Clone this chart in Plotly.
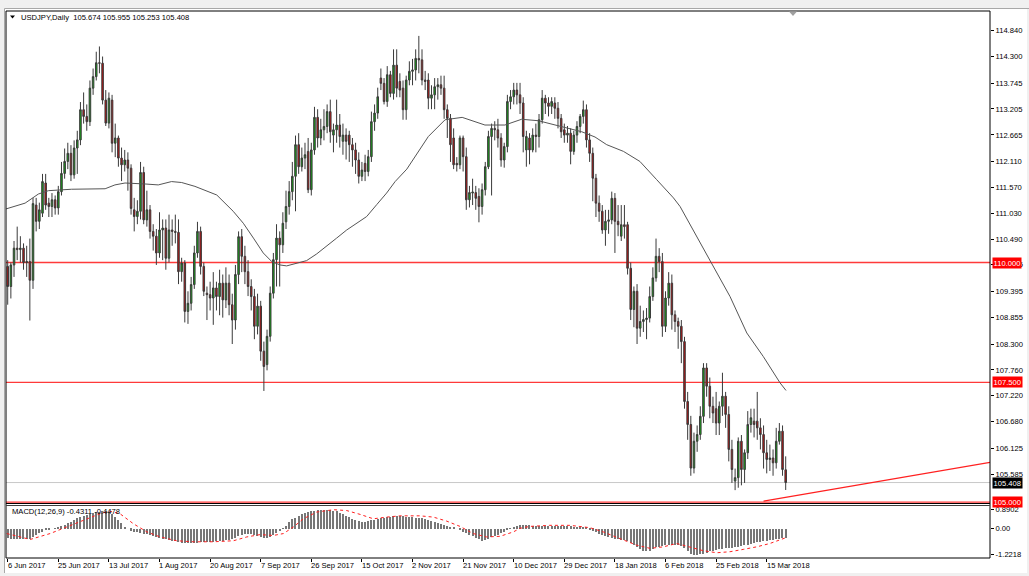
import plotly.graph_objects as go

W, H = 1029, 576

# ---------------- data ----------------
date_labels = ["6 Jun 2017", "25 Jun 2017", "13 Jul 2017", "1 Aug 2017", "20 Aug 2017",
               "7 Sep 2017", "26 Sep 2017", "15 Oct 2017", "2 Nov 2017", "21 Nov 2017",
               "10 Dec 2017", "29 Dec 2017", "18 Jan 2018", "6 Feb 2018", "25 Feb 2018",
               "15 Mar 2018"]
label_bar_step = 16

ohlc_rows = [
    (109.92, 110.05, 109.12, 109.50), (109.50, 110.00, 109.25, 109.95), (109.95, 110.45, 109.70, 110.30),
    (110.30, 110.75, 110.05, 110.27), (110.27, 110.55, 110.00, 110.30), (110.30, 110.40, 109.85, 110.00),
    (110.00, 110.35, 109.70, 110.02), (110.02, 110.50, 108.79, 109.63), (109.63, 111.35, 109.45, 111.23),
    (111.20, 111.35, 110.65, 110.86), (110.86, 111.25, 110.70, 111.10), (111.03, 111.85, 110.95, 111.69),
    (111.66, 111.85, 111.10, 111.20), (111.24, 111.35, 110.95, 111.17), (111.17, 111.45, 110.95, 111.31),
    (111.31, 111.40, 111.00, 111.14), (111.14, 111.60, 111.00, 111.48), (111.48, 112.10, 111.40, 111.86),
    (111.86, 112.38, 111.75, 112.11), (112.11, 112.50, 111.95, 112.28), (112.28, 112.45, 111.70, 111.83),
    (111.83, 112.55, 111.75, 112.39), (112.39, 112.75, 111.85, 112.56), (112.56, 113.35, 112.45, 113.19),
    (113.19, 113.55, 112.90, 113.05), (113.05, 113.30, 112.75, 112.94), (112.94, 113.80, 112.85, 113.64),
    (113.64, 114.05, 113.50, 113.88), (113.88, 114.40, 113.80, 114.17), (114.17, 114.51, 113.95, 114.16),
    (114.16, 114.30, 113.30, 113.39), (113.39, 113.60, 112.85, 112.91), (112.91, 113.55, 112.80, 113.43),
    (113.39, 113.50, 112.30, 112.49), (112.49, 112.90, 112.20, 112.60), (112.60, 112.65, 112.00, 112.18),
    (112.18, 112.40, 111.70, 112.04), (112.04, 112.35, 111.90, 112.14), (112.14, 112.30, 111.50, 111.97),
    (111.97, 112.05, 111.00, 111.13), (111.10, 111.35, 110.65, 110.96), (110.96, 111.30, 110.80, 111.07),
    (111.07, 112.10, 110.90, 111.88), (111.88, 112.00, 110.80, 110.89), (110.89, 111.50, 110.75, 111.10),
    (111.10, 111.20, 110.50, 110.65), (110.65, 110.80, 110.25, 110.55), (110.55, 110.70, 109.95, 110.20),
    (110.20, 111.05, 110.10, 110.68), (110.68, 110.90, 110.05, 110.72), (110.72, 110.90, 109.85, 110.09),
    (110.09, 111.00, 110.00, 110.68), (110.68, 110.90, 110.35, 110.65), (110.65, 111.00, 110.40, 110.63),
    (110.63, 110.90, 109.55, 109.81), (109.81, 110.10, 109.60, 109.99), (109.99, 110.05, 108.75, 108.98),
    (108.98, 109.40, 108.72, 109.15), (109.15, 109.70, 109.00, 109.54), (109.54, 110.35, 109.45, 110.20),
    (110.20, 110.85, 110.10, 110.65), (110.65, 110.75, 109.75, 109.92), (109.92, 110.00, 109.30, 109.40),
    (109.36, 109.50, 108.80, 109.33), (109.33, 109.60, 109.00, 109.26), (109.26, 109.80, 108.70, 109.47),
    (109.47, 109.60, 109.00, 109.29), (109.29, 109.85, 108.90, 109.57), (109.57, 109.75, 108.85, 109.22),
    (109.22, 109.90, 109.05, 109.57), (109.57, 109.75, 108.90, 109.12), (109.12, 109.35, 108.30, 108.80),
    (108.80, 109.95, 108.60, 109.75), (109.75, 110.65, 109.55, 110.54), (110.54, 110.70, 109.80, 110.13),
    (110.13, 110.35, 109.55, 109.81), (109.81, 110.05, 109.30, 109.50), (109.50, 109.65, 109.00, 109.29),
    (109.29, 109.45, 108.40, 108.67), (108.67, 109.35, 108.50, 109.09), (109.09, 109.20, 107.95, 108.15),
    (108.15, 108.35, 107.32, 107.83), (107.87, 108.60, 107.75, 108.46), (108.46, 109.50, 108.35, 109.36),
    (109.36, 110.20, 109.25, 110.06), (110.06, 110.80, 109.50, 110.51), (110.51, 110.65, 109.50, 110.37),
    (110.37, 111.05, 110.20, 110.82), (110.85, 111.50, 110.70, 111.17), (111.17, 111.70, 111.00, 111.48),
    (111.48, 112.10, 111.30, 111.80), (111.80, 112.65, 111.07, 112.46), (112.46, 112.70, 111.85, 112.00),
    (112.00, 112.40, 111.90, 112.18), (112.18, 112.50, 111.95, 112.25), (112.32, 112.60, 111.45, 111.52),
    (111.52, 112.50, 111.40, 112.35), (112.35, 113.25, 112.25, 113.03), (113.03, 113.20, 112.40, 112.60),
    (112.60, 113.00, 112.45, 112.77), (112.77, 113.20, 112.55, 112.84), (112.84, 113.30, 112.70, 113.15),
    (113.15, 113.40, 112.50, 112.73), (112.66, 112.90, 112.30, 112.77), (112.77, 113.40, 112.50, 112.87),
    (112.87, 113.10, 112.40, 112.63), (112.53, 112.90, 112.25, 112.66), (112.66, 112.80, 112.15, 112.53),
    (112.66, 112.75, 112.10, 112.46), (112.46, 112.60, 112.00, 112.35), (112.35, 112.50, 111.85, 112.14),
    (112.14, 112.30, 111.65, 111.80), (111.80, 112.10, 111.70, 111.93), (112.07, 112.25, 111.70, 111.90),
    (111.90, 112.35, 111.80, 112.21), (112.21, 113.15, 112.10, 112.94), (112.94, 113.30, 112.75, 113.12),
    (113.12, 113.65, 113.00, 113.46), (113.85, 114.05, 113.60, 113.74), (113.74, 113.85, 113.30, 113.36),
    (113.36, 114.10, 113.25, 113.92), (113.92, 114.00, 113.45, 113.53), (113.53, 114.45, 113.40, 114.12),
    (114.12, 114.45, 113.45, 113.64), (113.78, 113.95, 113.45, 113.60), (113.64, 113.80, 112.98, 113.19),
    (113.19, 113.90, 112.98, 113.81), (113.81, 114.20, 113.70, 113.99), (113.99, 114.25, 113.70, 114.02),
    (114.02, 114.45, 113.80, 114.26), (114.26, 114.73, 113.95, 114.23), (114.23, 114.45, 113.70, 113.81),
    (113.81, 114.00, 113.60, 113.78), (113.81, 113.95, 113.20, 113.43), (113.43, 113.70, 113.20, 113.50),
    (113.50, 113.85, 113.20, 113.67), (113.67, 113.85, 113.40, 113.71), (113.71, 113.90, 113.50, 113.64),
    (113.64, 113.90, 113.00, 113.19), (113.19, 113.30, 112.60, 113.01), (113.01, 113.10, 112.10, 112.46),
    (112.60, 112.80, 111.95, 112.04), (112.07, 112.20, 111.90, 112.04), (112.04, 112.65, 111.95, 112.60),
    (112.60, 112.65, 111.90, 112.21), (112.21, 112.40, 111.10, 111.31), (111.31, 111.60, 111.15, 111.46),
    (111.45, 111.75, 111.20, 111.47), (111.46, 111.60, 111.10, 111.34), (111.38, 111.55, 110.84, 111.17),
    (111.17, 111.65, 111.00, 111.52), (111.52, 112.10, 111.40, 112.00), (112.00, 112.75, 111.95, 112.63),
    (112.63, 112.90, 111.40, 112.80), (112.80, 112.95, 112.55, 112.77), (112.77, 113.00, 112.40, 112.60),
    (112.60, 112.70, 112.00, 112.14), (112.14, 112.50, 111.98, 112.42), (112.42, 113.50, 112.30, 113.36),
    (113.36, 113.60, 113.20, 113.46), (113.46, 113.75, 113.30, 113.60), (113.60, 113.75, 113.30, 113.50),
    (113.50, 113.75, 113.10, 113.33), (113.33, 113.45, 112.30, 112.63), (112.35, 112.75, 112.00, 112.63),
    (112.60, 112.70, 112.05, 112.35), (112.35, 112.80, 112.30, 112.66), (112.66, 112.90, 112.30, 112.63),
    (112.63, 113.10, 112.40, 112.98), (112.98, 113.60, 112.90, 113.43), (113.43, 113.50, 113.10, 113.33),
    (113.33, 113.45, 113.05, 113.26), (113.26, 113.45, 113.10, 113.36), (113.33, 113.45, 113.00, 113.22),
    (113.22, 113.35, 112.80, 113.01), (113.01, 113.10, 112.60, 112.73), (112.77, 112.90, 112.50, 112.66),
    (112.66, 112.85, 112.50, 112.70), (112.70, 112.80, 112.05, 112.32), (112.32, 112.75, 112.25, 112.66),
    (112.66, 112.95, 112.50, 112.84), (112.84, 113.10, 112.70, 113.05), (113.05, 113.38, 112.90, 113.19),
    (113.19, 113.30, 112.40, 112.56), (112.56, 112.70, 112.10, 112.28), (112.28, 112.40, 111.28, 111.76),
    (111.76, 111.85, 110.95, 111.24), (111.24, 111.40, 110.85, 111.07), (111.07, 111.20, 110.60, 110.68),
    (110.68, 111.10, 110.35, 110.86), (110.86, 111.10, 110.60, 110.89), (110.89, 111.48, 110.80, 111.34),
    (111.34, 111.45, 110.20, 110.86), (110.86, 111.20, 110.55, 110.79), (110.55, 111.20, 110.45, 110.79),
    (110.79, 111.20, 110.50, 110.75), (110.79, 110.85, 109.75, 109.88), (109.88, 110.00, 108.80, 109.02),
    (109.02, 109.50, 108.65, 109.40), (109.40, 109.55, 108.30, 108.63), (108.63, 109.10, 108.45, 108.77),
    (108.77, 109.00, 108.55, 108.81), (108.81, 109.05, 108.40, 108.84), (108.84, 109.50, 108.75, 109.29),
    (109.29, 109.90, 109.20, 109.68), (109.68, 110.50, 109.60, 110.13), (110.13, 110.30, 109.80, 110.02),
    (110.02, 110.20, 108.45, 108.67), (108.67, 109.40, 108.55, 109.26), (109.26, 109.80, 109.10, 109.57),
    (109.57, 109.75, 108.60, 108.91), (108.91, 109.00, 108.55, 108.77), (108.77, 108.85, 108.20, 108.67),
    (108.67, 108.80, 107.90, 108.35), (108.35, 108.45, 106.95, 107.10), (107.10, 107.30, 106.30, 106.62),
    (106.62, 106.80, 105.55, 105.71), (105.71, 106.45, 105.60, 106.27), (106.27, 106.60, 106.05, 106.41),
    (106.41, 107.00, 106.30, 106.79), (106.79, 107.90, 106.65, 107.80), (107.80, 107.90, 107.20, 107.42),
    (107.42, 107.60, 106.75, 107.00), (107.00, 107.20, 106.65, 106.86), (106.95, 107.30, 106.40, 106.65),
    (106.65, 107.10, 106.40, 107.00), (107.00, 107.70, 106.80, 107.21), (107.21, 107.30, 106.55, 106.83),
    (106.83, 107.00, 105.85, 106.10), (106.10, 106.30, 105.40, 105.68), (105.44, 105.70, 105.25, 105.51),
    (105.51, 106.35, 105.30, 106.27), (106.27, 106.40, 105.35, 105.68), (105.68, 106.10, 105.40, 106.03),
    (106.03, 106.90, 105.90, 106.62), (106.62, 106.95, 106.45, 106.76), (106.69, 106.95, 106.35, 106.62),
    (106.69, 107.30, 106.30, 106.55), (106.55, 106.75, 106.10, 106.41), (106.41, 106.60, 105.70, 106.03),
    (106.03, 106.30, 105.60, 105.89), (105.89, 106.20, 105.65, 105.92), (105.92, 106.10, 105.55, 105.82),
    (105.82, 106.55, 105.70, 106.27), (106.27, 106.65, 106.20, 106.48), (106.48, 106.60, 105.55, 105.68),
    (105.674, 105.955, 105.253, 105.408),
]
opens = [r[0] for r in ohlc_rows]
highs = [r[1] for r in ohlc_rows]
lows = [r[2] for r in ohlc_rows]
closes = [r[3] for r in ohlc_rows]
bars = list(range(len(ohlc_rows)))

ma_bars = [-0.5, 5.5, 9.7, 12.9, 20.2, 30.8, 33.9, 37.1, 43.4, 47.6, 51.8, 55.0, 59.2, 62.4, 66.1,
           71.3, 74.5, 77.7, 80.8, 83.5, 86.1, 88.2, 91.4, 94.5, 97.7, 100.9, 104.0, 107.2, 110.3,
           113.5, 116.7, 119.8, 122.5, 126.2, 133.0, 138.3, 143.7, 150.9, 157.2, 162.5, 167.8,
           175.2, 181.5, 185.7, 189.4, 194.7, 199.9, 205.2, 210.5, 212.6, 217.9, 223.1, 228.4,
           233.7, 238.9, 244.2, 246.1]
ma_vals = [111.12, 111.24, 111.43, 111.50, 111.53, 111.54, 111.62, 111.66, 111.64, 111.62, 111.69,
           111.67, 111.59, 111.50, 111.41, 111.07, 110.82, 110.51, 110.20, 110.02, 109.95, 109.93,
           109.99, 110.04, 110.18, 110.34, 110.51, 110.68, 110.81, 110.96, 111.21, 111.45, 111.69,
           111.95, 112.63, 112.98, 113.03, 112.87, 112.87, 112.99, 112.96, 112.84, 112.73, 112.62,
           112.46, 112.32, 112.11, 111.73, 111.35, 111.17, 110.54, 109.92, 109.29, 108.53, 108.04,
           107.49, 107.33]

macd_hist = [
    -0.45, -0.46, -0.46, -0.47, -0.47, -0.47, -0.47, -0.47, -0.40, -0.31, -0.22, -0.14, -0.07, -0.03,
    0.00, 0.02, 0.06, 0.12, 0.18, 0.26, 0.34, 0.42, 0.49, 0.56, 0.62, 0.67, 0.71, 0.75, 0.78, 0.80,
    0.83, 0.84, 0.79, 0.71, 0.58, 0.42, 0.26, 0.10, 0.00, -0.09, -0.14, -0.17, -0.20, -0.23, -0.26,
    -0.30, -0.35, -0.40, -0.44, -0.47, -0.50, -0.53, -0.56, -0.60, -0.63, -0.66, -0.69, -0.69, -0.68,
    -0.66, -0.65, -0.64, -0.63, -0.63, -0.62, -0.61, -0.59, -0.58, -0.56, -0.54, -0.51, -0.48, -0.43,
    -0.36, -0.29, -0.24, -0.23, -0.26, -0.30, -0.33, -0.37, -0.42, -0.44, -0.40, -0.30, -0.22, -0.10,
    0.02, 0.14, 0.30, 0.45, 0.53, 0.61, 0.68, 0.74, 0.80, 0.83, 0.86, 0.88, 0.89, 0.89, 0.88, 0.88,
    0.86, 0.84, 0.77, 0.69, 0.61, 0.54, 0.47, 0.41, 0.35, 0.30, 0.32, 0.36, 0.41, 0.44, 0.47, 0.50,
    0.52, 0.54, 0.57, 0.59, 0.61, 0.60, 0.59, 0.57, 0.56, 0.55, 0.53, 0.52, 0.50, 0.47, 0.43, 0.39,
    0.34, 0.29, 0.24, 0.20, 0.15, 0.09, 0.04, 0.00, -0.08, -0.15, -0.22, -0.29, -0.36, -0.44, -0.50,
    -0.56, -0.52, -0.47, -0.41, -0.35, -0.29, -0.22, -0.15, -0.05, 0.02, 0.08, 0.13, 0.17, 0.17, 0.16,
    0.16, 0.15, 0.15, 0.14, 0.14, 0.14, 0.14, 0.14, 0.14, 0.14, 0.14, 0.14, 0.13, 0.11, 0.09, 0.08,
    0.06, 0.05, 0.04, -0.02, -0.09, -0.17, -0.25, -0.30, -0.36, -0.41, -0.44, -0.47, -0.49, -0.52,
    -0.55, -0.58, -0.68, -0.78, -0.88, -0.97, -1.06, -1.07, -1.06, -0.97, -0.88, -0.85, -0.82, -0.78,
    -0.75, -0.76, -0.77, -0.78, -0.80, -0.90, -1.05, -1.19, -1.22, -1.22, -1.20, -1.19, -1.13, -1.06,
    -1.03, -1.00, -0.98, -0.95, -0.93, -0.91, -0.90, -0.88, -0.85, -0.82, -0.79, -0.76, -0.72, -0.68,
    -0.64, -0.61, -0.59, -0.56, -0.54, -0.51, -0.49, -0.47, -0.45, -0.43,
]

signal_bars = [-0.3, 7.1, 13.4, 18.6, 23.9, 29.2, 32.3, 35.5, 39.7, 44.0, 48.2, 53.4, 58.7, 65.0,
               71.4, 75.6, 79.8, 84.0, 87.2, 90.3, 93.5, 97.7, 103.0, 107.2, 111.4, 115.6, 119.8,
               124.0, 130.4, 134.6, 138.8, 143.0, 147.2, 151.4, 155.7, 159.9, 162.0, 165.1, 171.4,
               177.8, 184.1, 188.3, 193.6, 198.9, 203.1, 207.3, 211.5, 215.7, 219.9, 224.2, 228.4,
               232.6, 236.8, 241.0, 246.0]
signal_vals = [-0.25, -0.53, -0.25, 0.06, 0.38, 0.69, 0.81, 0.69, 0.22, -0.17, -0.41, -0.59, -0.64,
               -0.64, -0.59, -0.41, -0.30, -0.34, -0.25, 0.06, 0.45, 0.77, 0.88, 0.84, 0.66, 0.45,
               0.53, 0.59, 0.59, 0.53, 0.34, 0.09, -0.25, -0.41, -0.38, -0.17, 0.00, 0.09, 0.14,
               0.14, 0.03, -0.17, -0.49, -0.80, -0.95, -0.88, -0.72, -0.88, -1.06, -1.16, -1.11,
               -1.00, -0.88, -0.72, -0.45]

price_ticks = [114.840, 114.300, 113.745, 113.205, 112.665, 112.110, 111.570, 111.030, 110.490,
               109.955, 109.395, 108.855, 108.300, 107.760, 107.220, 106.680, 106.125, 105.585]
macd_ticks = [0.8902, 0.0, -1.2218]
macd_tick_text = ["0.8902", "0.00", "-1.2218"]
levels = [110.0, 107.5, 105.0]
last_price = 105.408
trend_x = [239.0, 310.6]
trend_y = [105.02, 105.83]
header_text = "USDJPY,Daily  105.674 105.955 105.253 105.408"
macd_text = "MACD(12,26,9) -0.4311 -0.4478"

# ---------------- layout helpers ----------------
def fx(px):
    return px / W


def fy(px):
    return 1 - px / H


FONT = "Tahoma, 'Liberation Sans', Arial, sans-serif"
FS = 7.6
X_RANGE = [-0.54, 310.6]

fig = go.Figure()

fig.add_trace(go.Candlestick(
    x=bars, open=opens, high=highs, low=lows, close=closes,
    increasing=dict(line=dict(color="#3a3a3a", width=1), fillcolor="#12a812"),
    decreasing=dict(line=dict(color="#3a3a3a", width=1), fillcolor="#c01010"),
    whiskerwidth=0, xaxis="x", yaxis="y", showlegend=False, hoverinfo="skip",
))
fig.add_trace(go.Scatter(x=ma_bars, y=ma_vals, mode="lines", line=dict(color="#555555", width=1),
                         xaxis="x", yaxis="y", showlegend=False, hoverinfo="skip"))
fig.add_trace(go.Bar(x=bars, y=macd_hist, width=0.38, marker=dict(color="#777777", line=dict(width=0)),
                     xaxis="x2", yaxis="y2", showlegend=False, hoverinfo="skip"))
fig.add_trace(go.Scatter(x=signal_bars, y=signal_vals, mode="lines", line=dict(color="#ff2020", width=1, dash="dot"),
                         xaxis="x2", yaxis="y2", showlegend=False, hoverinfo="skip"))

shapes = []
# outer gray window chrome
gray = "#f0f0f0"
shapes += [
    dict(type="rect", xref="paper", yref="paper", x0=0, x1=1, y0=fy(8.5), y1=1, fillcolor=gray, line_width=0, layer="below"),
    dict(type="rect", xref="paper", yref="paper", x0=0, x1=fx(4.5), y0=0, y1=1, fillcolor=gray, line_width=0, layer="below"),
    dict(type="rect", xref="paper", yref="paper", x0=0, x1=1, y0=0, y1=fy(573), fillcolor=gray, line_width=0, layer="below"),
    dict(type="rect", xref="paper", yref="paper", x0=fx(1027), x1=1, y0=0, y1=1, fillcolor=gray, line_width=0, layer="below"),
    dict(type="line", xref="paper", yref="paper", x0=fx(4.5), x1=1, y0=fy(8.5), y1=fy(8.5), line=dict(color="#a8a8a8", width=1)),
    dict(type="line", xref="paper", yref="paper", x0=fx(4.5), x1=fx(4.5), y0=fy(573), y1=fy(8.5), line=dict(color="#a8a8a8", width=1)),
]
# level lines
for lv in levels:
    shapes.append(dict(type="line", xref="paper", yref="y", x0=fx(6), x1=fx(990), y0=lv, y1=lv,
                       line=dict(color="#ff3a3a", width=1.4), layer="below"))
shapes.append(dict(type="line", xref="paper", yref="y", x0=fx(6), x1=fx(990), y0=last_price, y1=last_price,
                   line=dict(color="#c8c8c8", width=1), layer="below"))
shapes.append(dict(type="line", xref="x", yref="y", x0=trend_x[0], x1=trend_x[1], y0=trend_y[0], y1=trend_y[1],
                   line=dict(color="#ff2020", width=1.1)))
# frames
black = "#000000"
shapes += [
    dict(type="line", xref="paper", yref="paper", x0=fx(6), x1=fx(990), y0=fy(11), y1=fy(11), line=dict(color=black, width=1)),
    dict(type="line", xref="paper", yref="paper", x0=fx(6), x1=fx(6), y0=fy(558), y1=fy(11), line=dict(color=black, width=1)),
    dict(type="line", xref="paper", yref="paper", x0=fx(990), x1=fx(990), y0=fy(558), y1=fy(11), line=dict(color=black, width=1)),
    dict(type="line", xref="paper", yref="paper", x0=fx(6), x1=fx(990), y0=fy(558), y1=fy(558), line=dict(color=black, width=1)),
    dict(type="line", xref="paper", yref="paper", x0=fx(6), x1=fx(990), y0=fy(503.5), y1=fy(503.5), line=dict(color=black, width=1)),
    dict(type="line", xref="paper", yref="paper", x0=fx(6), x1=fx(990), y0=fy(505.5), y1=fy(505.5), line=dict(color="#404040", width=1)),
]
# header triangle and chart-shift marker
shapes.append(dict(type="path", xref="paper", yref="paper",
                   path=f"M {fx(10)},{fy(15.5)} L {fx(15)},{fy(15.5)} L {fx(12.5)},{fy(18.5)} Z",
                   fillcolor="#000000", line_width=0))
shapes.append(dict(type="path", xref="paper", yref="paper",
                   path=f"M {fx(789)},{fy(11.5)} L {fx(797)},{fy(11.5)} L {fx(793)},{fy(16)} Z",
                   fillcolor="#a0a0a0", line_width=0))

annotations = []
annotations.append(dict(xref="paper", yref="paper", x=fx(18.5), y=fy(17.8), xanchor="left", yanchor="middle",
                        text=header_text, showarrow=False, font=dict(family=FONT, size=FS, color="#000000")))
annotations.append(dict(xref="paper", yref="paper", x=fx(9.5), y=fy(511.5), xanchor="left", yanchor="middle",
                        text=macd_text, showarrow=False, font=dict(family=FONT, size=FS, color="#000000")))
for k, lab in enumerate(date_labels):
    annotations.append(dict(xref="x2", yref="paper", x=k * label_bar_step - 0.35, y=fy(565.8), xanchor="left",
                            yanchor="middle", text=lab, showarrow=False, borderpad=0,
                            font=dict(family=FONT, size=FS, color="#000000")))
for lv in levels:
    annotations.append(dict(xref="paper", yref="y", x=fx(991.5), y=lv, xanchor="left", yanchor="middle",
                            text=f"{lv:.3f}", showarrow=False, bgcolor="#ff0000", borderpad=0.6,
                            font=dict(family=FONT, size=FS, color="#ffffff")))
annotations.append(dict(xref="paper", yref="y", x=fx(991.5), y=last_price, xanchor="left", yanchor="middle",
                        text=f"{last_price:.3f}", showarrow=False, bgcolor="#000000", borderpad=0.6,
                        font=dict(family=FONT, size=FS, color="#ffffff")))

fig.update_layout(
    width=W, height=H, margin=dict(l=0, r=0, t=0, b=0),
    paper_bgcolor="#ffffff", plot_bgcolor="#ffffff",
    bargap=0, showlegend=False,
    xaxis=dict(domain=[fx(6), fx(990)], range=X_RANGE, showticklabels=False, showgrid=False,
               zeroline=False, showline=False, ticks="", rangeslider=dict(visible=False), anchor="y"),
    xaxis2=dict(domain=[fx(6), fx(990)], range=X_RANGE, matches="x", anchor="y2", showgrid=False,
                zeroline=False, showline=False, ticks="outside", ticklen=3, tickcolor="#000000",
                tickvals=[k * label_bar_step for k in range(len(date_labels))], showticklabels=False),
    yaxis=dict(domain=[fy(503.5), fy(11)], range=[104.971, 115.25], side="right", anchor="x",
               tickvals=price_ticks, ticktext=[f"{v:.3f}" for v in price_ticks], ticks="outside", ticklen=3,
               tickcolor="#000000", showgrid=False, zeroline=False, showline=False,
               tickfont=dict(family=FONT, size=FS, color="#000000")),
    yaxis2=dict(domain=[fy(558), fy(505.5)], range=[-1.408, 1.08], side="right", anchor="x2",
                tickvals=macd_ticks, ticktext=macd_tick_text, ticks="outside", ticklen=3,
                tickcolor="#000000", showgrid=False, zeroline=False, showline=False,
                tickfont=dict(family=FONT, size=FS, color="#000000")),
    shapes=shapes, annotations=annotations,
)

fig.write_html("out.html", config={"displayModeBar": False})

# remove the default page margin so the 1029x576 figure fills the window exactly
with open("out.html", "r", encoding="utf-8") as fh:
    page = fh.read()
page = page.replace("<head>", "<head><style>html,body{margin:0;padding:0;overflow:hidden;}</style>", 1)
with open("out.html", "w", encoding="utf-8") as fh:
    fh.write(page)
